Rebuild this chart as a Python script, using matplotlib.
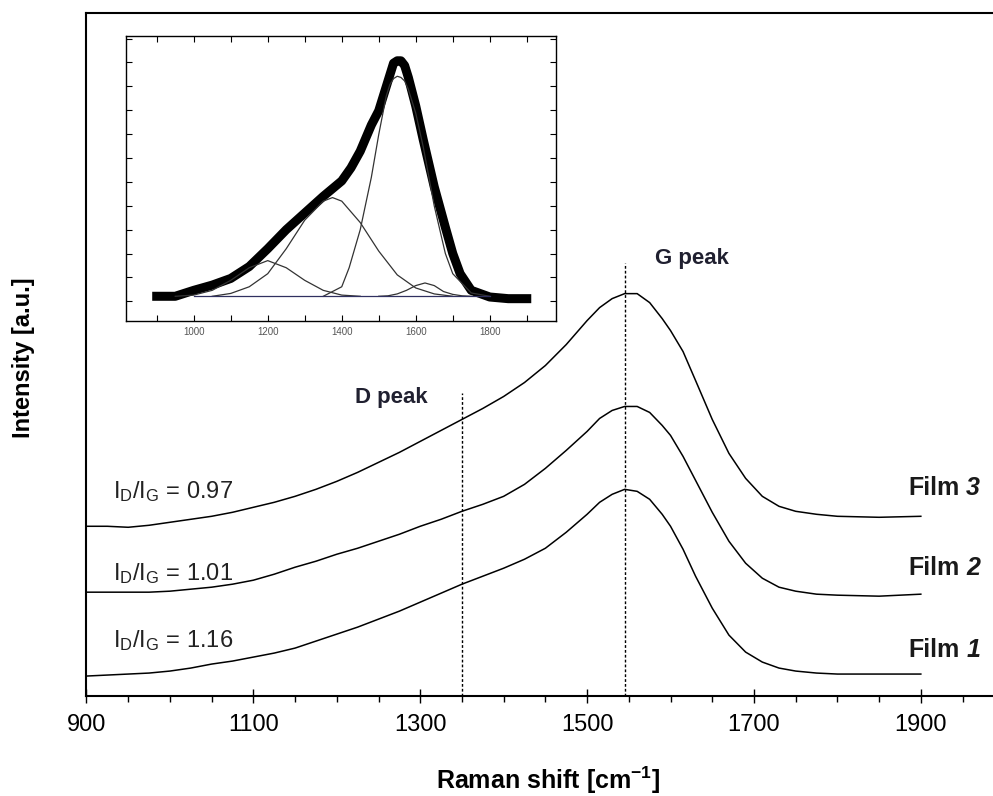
import matplotlib
matplotlib.use("Agg")
import matplotlib.pyplot as plt
import numpy as np

plt.rcParams['font.family'] = ['Liberation Sans', 'DejaVu Sans']
plt.rcParams['mathtext.default'] = 'regular'

# Main spectra
wn = [900, 925, 950, 975, 1000, 1025, 1050, 1075, 1100, 1125, 1150, 1175, 1200, 1225,
      1250, 1275, 1300, 1325, 1350, 1375, 1400, 1425, 1450, 1475, 1500, 1515, 1530,
      1545, 1560, 1575, 1590, 1600, 1615, 1630, 1650, 1670, 1690, 1710, 1730, 1750,
      1775, 1800, 1850, 1900]
film3 = [170, 170, 169, 171, 174, 177, 180, 184, 189, 194, 200, 207, 215, 224,
         234, 244, 255, 266, 277, 288, 300, 314, 331, 352, 376, 389, 398,
         403, 403, 394, 378, 366, 345, 316, 277, 243, 218, 200, 190, 185,
         182, 180, 179, 180]
film2 = [104, 104, 104, 104, 105, 107, 109, 112, 116, 122, 129, 135, 142, 148,
         155, 162, 170, 177, 185, 192, 200, 212, 228, 246, 265, 278, 286,
         290, 290, 284, 271, 261, 240, 216, 184, 155, 133, 118, 109, 105,
         102, 101, 100, 102]
film1 = [20, 21, 22, 23, 25, 28, 32, 35, 39, 43, 48, 55, 62, 69,
         77, 85, 94, 103, 112, 120, 128, 137, 148, 164, 182, 194, 202,
         207, 205, 197, 182, 170, 147, 120, 88, 61, 44, 34, 28, 25,
         23, 22, 22, 22]
films = [film1, film2, film3]
film_names = ['1', '2', '3']
ratios = ['1.16', '1.01', '0.97']
ratio_y = [49, 116, 198]
film_label_y = [39, 121, 201]

d_peak, g_peak = 1350, 1545
d_top, g_top = 303, 434

# Inset: measured spectrum and fitted components
wn_in = [900, 950, 1000, 1050, 1100, 1150, 1200, 1250, 1300, 1350, 1400, 1425, 1450, 1480, 1500,
         1520, 1540, 1550, 1560, 1570, 1580, 1600, 1620, 1650, 1680, 1700, 1720, 1750,
         1800, 1850, 1900]
meas = [0.00, 0.00, 0.025, 0.047, 0.075, 0.125, 0.20, 0.28, 0.35, 0.42, 0.485, 0.54, 0.61, 0.72, 0.78,
        0.88, 0.98, 0.99, 0.99, 0.97, 0.92, 0.80, 0.66, 0.46, 0.29, 0.18, 0.095, 0.025,
        -0.003, -0.01, -0.01]

g_wn = [1350, 1400, 1420, 1450, 1480, 1500, 1520, 1530, 1540, 1550, 1560, 1570, 1580,
        1600, 1620, 1650, 1680, 1700, 1750, 1800]
g_fit = [0.0, 0.04, 0.12, 0.28, 0.50, 0.68, 0.84, 0.89, 0.915, 0.925, 0.92, 0.905, 0.87,
         0.77, 0.63, 0.38, 0.18, 0.095, 0.014, 0.0]
d_wn = [1050, 1100, 1150, 1200, 1250, 1300, 1350, 1375, 1400, 1450, 1500, 1550, 1600, 1650, 1700]
d_fit = [0.0, 0.012, 0.04, 0.095, 0.20, 0.32, 0.40, 0.415, 0.40, 0.31, 0.19, 0.09, 0.035, 0.01, 0.0]
s_wn = [950, 1000, 1050, 1100, 1150, 1200, 1250, 1300, 1350, 1400, 1450]
s_fit = [0.0, 0.005, 0.025, 0.067, 0.12, 0.15, 0.12, 0.067, 0.025, 0.005, 0.0]
h_wn = [1500, 1525, 1550, 1575, 1600, 1625, 1650, 1675, 1700, 1725, 1750]
h_fit = [0.0, 0.002, 0.01, 0.025, 0.045, 0.056, 0.045, 0.02, 0.008, 0.002, 0.0]
base_wn = [1000, 1800]
base = [0.0, 0.0]

fig = plt.figure(figsize=(9.93, 7.96), dpi=100)
ax = fig.add_axes([0.0871, 0.1256, 0.9129, 0.858])

for f in films:
    ax.plot(wn, f, color='black', lw=1.1)

ax.plot([d_peak, d_peak], [0, d_top], color='black', lw=1, ls=(0, (2, 1.5)))
ax.plot([g_peak, g_peak], [0, g_top], color='black', lw=1, ls=(0, (2, 1.5)))

ax.text(1222, 293, 'D peak', fontsize=16, fontweight='bold', color='#202030')
ax.text(1581, 433, 'G peak', fontsize=16, fontweight='bold', color='#202030')

for r, y in zip(ratios, ratio_y):
    ax.text(932, y, r'I$_{D}$/I$_{G}$ = ' + r, fontsize=17, color='#222222', va='baseline')

for n, y in zip(film_names, film_label_y):
    ax.text(1971, y, n, fontsize=18, fontweight='bold', style='italic', ha='right',
            va='baseline', color='#1a1a1a')
    ax.annotate('Film', xy=(1971, y), xytext=(-15, 0), textcoords='offset points',
                fontsize=18, fontweight='bold', ha='right', va='baseline', color='#1a1a1a')

ax.set_xlim(900, 1986.5)
ax.set_ylim(0, 684)
ax.set_xticks([900, 1100, 1300, 1500, 1700, 1900])
ax.set_xticks(np.arange(950, 1990, 50), minor=True)
ax.set_yticks([])
ax.tick_params(axis='x', which='major', direction='inout', length=10, width=1, labelsize=17, pad=8)
ax.tick_params(axis='x', which='minor', direction='out', length=4, width=1)
ax.spines['right'].set_visible(False)
for s in ['left', 'top', 'bottom']:
    ax.spines[s].set_linewidth(1.5)

ax.set_xlabel(r'Raman shift [cm$^{-1}$]', fontsize=18, fontweight='bold')
ax.xaxis.set_label_coords(0.509, -0.1)
ax.set_ylabel('Intensity [a.u.]', fontsize=17, fontweight='bold')
ax.yaxis.set_label_coords(-0.057, 0.495)

# Inset
ins = fig.add_axes([0.1269, 0.5967, 0.433, 0.358])
ins.plot(wn_in, meas, color='black', lw=6.5, solid_joinstyle='round')
ins.plot(g_wn, g_fit, color='#333333', lw=0.9)
ins.plot(d_wn, d_fit, color='#333333', lw=0.9)
ins.plot(s_wn, s_fit, color='#333333', lw=0.9)
ins.plot(h_wn, h_fit, color='#333333', lw=0.9)
ins.plot(base_wn, base, color='#303060', lw=0.9)
ins.set_xlim(817, 1979)
ins.set_ylim(-0.104, 1.094)
ins.set_xticks([1000, 1200, 1400, 1600, 1800])
ins.set_xticks([900, 1100, 1300, 1500, 1700, 1900], minor=True)
ins.set_yticks(np.arange(-0.021, 1.09, 0.1004))
ins.set_yticklabels([])
ins.tick_params(which='both', direction='in', top=True, right=True, length=4, width=0.8,
                labelsize=7, labelcolor='#555555', pad=4)
for s in ins.spines.values():
    s.set_linewidth(1)

fig.savefig('out.png', dpi=100)
